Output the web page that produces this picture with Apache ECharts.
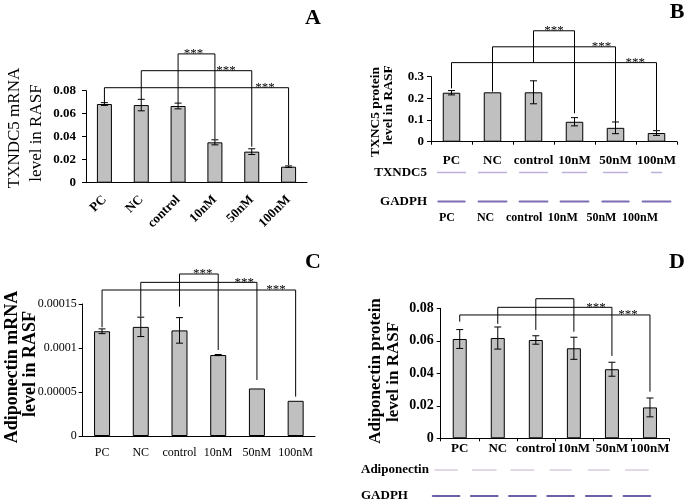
<!DOCTYPE html>
<html><head><meta charset="utf-8">
<script src="https://cdn.jsdelivr.net/npm/echarts@6/dist/echarts.min.js"></script>
<style>html,body{margin:0;padding:0;background:#fff}#c{width:688px;height:504px}</style>
</head><body><div id="c"></div>
<script>
// ---------- data ----------
const categories = ['PC', 'NC', 'control', '10nM', '50nM', '100nM'];

const valuesA = [0.0684, 0.0675, 0.0667, 0.0351, 0.027, 0.0139];
const errorsA = [0.0012, 0.005, 0.0025, 0.0022, 0.0025, 0.0007];
const ticksA = ['0', '0.02', '0.04', '0.06', '0.08'];
// [left idx, right idx, bracket height, left leg end, right leg end, star position (-1 = none)]
const bracketsA = [[2, 3, 0.112, 0.069, 0.038, 2.42], [1, 4, 0.0974, 0.0725, 0.0313, 3.3], [0, 5, 0.0826, 0.0695, 0.0154, 4.36]];

const valuesB = [0.226, 0.228, 0.228, 0.092, 0.064, 0.04];
const errorsB = [0.01, 0, 0.053, 0.019, 0.027, 0.011];
const ticksB = ['0', '0.1', '0.2', '0.3'];
const bracketsB = [[2, 3, 0.512, 0.365, 0.131, 2.5], [1, 4, 0.438, 0.231, 0.092, 3.66], [0, 5, 0.365, 0.246, 0.054, 4.48]];
const blotRowsB = ['TXNDC5', 'GADPH'];
const blotTXNDC5 = [0.97, 0.97, 0.97, 0.84, 0.84, 0.35];
const blotGADPH_B = [0.92, 0.97, 0.97, 0.97, 0.92, 0.97];
const laneLabelsB = ['PC', 'NC', 'control', '10nM', '50nM', '100nM'];

const valuesC = [0.000119, 0.000124, 0.00012, 0.000092, 0.000054, 0.00004];
const errorsC = [0.0000027, 0.000011, 0.0000145, 0.0000006, 0, 0];
const ticksC = ['0', '0.00005', '0.0001', '0.00015'];
const bracketsC = [[2, 3, 0.0001841, 0.000147, 0.0000977, 2.6], [1, 4, 0.0001746, 0.0001356, 0.0000636, 3.67], [0, 5, 0.0001659, 0.0001235, 0.0000447, 4.49]];

const valuesD = [0.0611, 0.0617, 0.0605, 0.0554, 0.0425, 0.019];
const errorsD = [0.0058, 0.0068, 0.0026, 0.0068, 0.0043, 0.0058];
const ticksD = ['0', '0.02', '0.04', '0.06', '0.08'];
const bracketsD = [[2, 3, 0.0859, 0.0667, 0.0656, -1], [1, 4, 0.0806, 0.0704, 0.0507, 3.58], [0, 5, 0.0759, 0.0718, 0.0287, 4.42]];
const blotRowsD = ['Adiponectin', 'GADPH'];
const blotAdiponectin = [0.84, 0.88, 0.84, 0.78, 0.78, 0.84];
const blotGADPH_D = [1, 1, 1, 1, 0.96, 1];

// ---------- helpers ----------
const FF = '"Liberation Serif", "Times New Roman", serif';
const BLACK = '#000';

function yAxis(gi, max, interval, ticks, size, weight, margin) {
  return {
    type: 'value', gridIndex: gi, min: 0, max: max, interval: interval,
    axisLine: {show: true, lineStyle: {color: BLACK, width: 1}},
    axisTick: {show: true, length: 4, lineStyle: {color: BLACK}},
    splitLine: {show: false},
    axisLabel: {
      margin: margin, color: BLACK, fontFamily: FF, fontSize: size, fontWeight: weight,
      formatter: function (v) { return ticks[Math.round(v / interval)]; }
    }
  };
}
function xAxis(gi, ticksOn, labelCfg) {
  return {
    type: 'category', gridIndex: gi, data: categories,
    axisLine: {show: true, lineStyle: {color: BLACK, width: 1}},
    axisTick: {show: ticksOn, length: 3, lineStyle: {color: BLACK}},
    splitLine: {show: false},
    axisLabel: Object.assign({color: BLACK, fontFamily: FF, interval: 0}, labelCfg)
  };
}
function bars(ai, vals, w) {
  return {
    type: 'bar', xAxisIndex: ai, yAxisIndex: ai, data: vals, barWidth: w,
    itemStyle: {color: '#c0c0c0', borderColor: BLACK, borderWidth: 1},
    silent: true
  };
}
function errBars(ai, vals, errs) {
  return {
    type: 'custom', xAxisIndex: ai, yAxisIndex: ai, clip: false, silent: true, z: 5,
    data: vals.map(function (v, i) { return [i, v, errs[i]]; }),
    encode: {x: 0, y: 1},
    renderItem: function (params, api) {
      const i = api.value(0), v = api.value(1), e = api.value(2);
      if (!e) return null;
      const t = api.coord([i, v + e]), b = api.coord([i, v - e]);
      const cw = 3.5, st = {stroke: BLACK, lineWidth: 1};
      return {type: 'group', children: [
        {type: 'line', shape: {x1: t[0], y1: t[1], x2: b[0], y2: b[1]}, style: st},
        {type: 'line', shape: {x1: t[0] - cw, y1: t[1], x2: t[0] + cw, y2: t[1]}, style: st},
        {type: 'line', shape: {x1: b[0] - cw, y1: b[1], x2: b[0] + cw, y2: b[1]}, style: st}
      ]};
    }
  };
}
function brackets(ai, rows) {
  return {
    type: 'custom', xAxisIndex: ai, yAxisIndex: ai, clip: false, silent: true, z: 6,
    data: rows,
    encode: {x: [0, 1], y: [2, 3, 4]},
    renderItem: function (params, api) {
      const li = api.value(0), ri = api.value(1), h = api.value(2), lb = api.value(3), rb = api.value(4), s = api.value(5);
      const pl = api.coord([li, h]), pr = api.coord([ri, h]);
      const ll = api.coord([li, lb]), rl = api.coord([ri, rb]);
      const st = {stroke: BLACK, lineWidth: 1};
      const ch = [
        {type: 'line', shape: {x1: pl[0], y1: pl[1], x2: pr[0], y2: pr[1]}, style: st},
        {type: 'line', shape: {x1: pl[0], y1: pl[1], x2: ll[0], y2: ll[1]}, style: st},
        {type: 'line', shape: {x1: pr[0], y1: pr[1], x2: rl[0], y2: rl[1]}, style: st}
      ];
      if (s >= 0) {
        const k = Math.floor(s);
        const a = api.coord([k, h]), b = api.coord([k + 1, h]);
        const x = a[0] + (s - k) * (b[0] - a[0]);
        ch.push({type: 'text', x: x, y: pl[1], style: {text: '***', fill: BLACK, font: '13px ' + FF,
          align: 'center', verticalAlign: 'middle', textAlign: 'center', textVerticalAlign: 'middle'}});
      }
      return {type: 'group', children: ch};
    }
  };
}
function blot(ai, rowsData, colors, widths) {
  const data = [];
  rowsData.forEach(function (arr, r) { arr.forEach(function (s, i) { data.push([i, r, s]); }); });
  return {
    type: 'custom', xAxisIndex: ai, yAxisIndex: ai, clip: false, silent: true,
    data: data, encode: {x: 0, y: 1},
    renderItem: function (params, api) {
      const i = api.value(0), r = api.value(1), s = api.value(2);
      const c = api.coord([i, r]);
      const w = api.size([1, 0])[0] * 0.7 * s;
      return {type: 'line', shape: {x1: c[0] - w / 2, y1: c[1], x2: c[0] + w / 2, y2: c[1]},
        style: {stroke: colors[r], lineWidth: widths[r], lineCap: 'round'}};
    }
  };
}
function blotY(gi, rows, labelCfg) {
  return {
    type: 'category', gridIndex: gi, data: rows, inverse: true, boundaryGap: false,
    axisLine: {show: false}, axisTick: {show: false}, splitLine: {show: false},
    axisLabel: Object.assign({color: BLACK, fontFamily: FF, fontWeight: 'bold', fontSize: 13, interval: 0}, labelCfg)
  };
}
function hiddenX(gi) {
  return {type: 'category', gridIndex: gi, data: categories, show: false};
}
function txt(text, x, y, size, weight, rot) {
  return {type: 'text', x: x, y: y, rotation: rot || 0, silent: true,
    style: {text: text, fill: BLACK, font: weight + ' ' + size + 'px ' + FF,
      align: 'center', verticalAlign: 'middle', textAlign: 'center', textVerticalAlign: 'middle'}};
}

// ---------- option ----------
const G = function (l, t, w, h) { return {left: l, top: t, width: w, height: h, containLabel: false, outerBoundsMode: 'none'}; };
const option = {
  animation: false,
  backgroundColor: '#fff',
  grid: [
    G(86, 90.7, 221, 92),        // 0 A
    G(431, 76.7, 246, 65),       // 1 B
    G(431, 172.5, 246, 29),      // 2 B blot
    G(427.7, 200, 231.6, 12),    // 3 B lane labels
    G(82.7, 304, 232.3, 132),    // 4 C
    G(440.7, 308.3, 228.3, 130), // 5 D
    G(427, 470, 229, 26)         // 6 D blot
  ],
  xAxis: [
    xAxis(0, false, {rotate: 45, margin: 15, fontSize: 13, fontWeight: 'bold'}),
    xAxis(1, true, {margin: 12, fontSize: 13, fontWeight: 'bold'}),
    hiddenX(2),
    {type: 'category', gridIndex: 3, data: laneLabelsB, axisLine: {show: false}, axisTick: {show: false},
      axisLabel: {margin: 0, color: BLACK, fontFamily: FF, fontWeight: 'bold', fontSize: 12, interval: 0}},
    xAxis(4, false, {margin: 11, fontSize: 12}),
    xAxis(5, true, {margin: 4, fontSize: 13, fontWeight: 'bold'}),
    hiddenX(6)
  ],
  yAxis: [
    yAxis(0, 0.08, 0.02, ticksA, 13, 'bold', 10),
    yAxis(1, 0.3, 0.1, ticksB, 13, 'bold', 7),
    blotY(2, blotRowsB, {margin: 4}),
    {type: 'value', gridIndex: 3, show: false, min: 0, max: 1},
    yAxis(4, 0.00015, 0.00005, ticksC, 12, 'normal', 6),
    yAxis(5, 0.08, 0.02, ticksD, 14, 'bold', 7),
    blotY(6, blotRowsD, {margin: 66, align: 'left'})
  ],
  series: [
    bars(0, valuesA, 15), errBars(0, valuesA, errorsA), brackets(0, bracketsA),
    bars(1, valuesB, 17.5), errBars(1, valuesB, errorsB), brackets(1, bracketsB),
    blot(2, [blotTXNDC5, blotGADPH_B], ['#bdb0da', '#7d6db5'], [1.5, 2]),
    bars(4, valuesC, 16), errBars(4, valuesC, errorsC), brackets(4, bracketsC),
    bars(5, valuesD, 14), errBars(5, valuesD, errorsD), brackets(5, bracketsD),
    blot(6, [blotAdiponectin, blotGADPH_D], ['#d6cce0', '#6e5ea8'], [1.5, 2])
  ],
  graphic: [
    txt('A', 313, 18, 22, 'bold'), txt('B', 677, 12, 22, 'bold'),
    txt('C', 313, 262, 22, 'bold'), txt('D', 677, 262, 22, 'bold'),
    txt('TXNDC5 mRNA', 15, 128, 17, 'normal', Math.PI / 2),
    txt('level in RASF', 37, 133, 17, 'normal', Math.PI / 2),
    txt('TXNC5 protein', 376, 112, 13.5, 'bold', Math.PI / 2),
    txt('level in RASF', 389, 105, 13.5, 'bold', Math.PI / 2),
    txt('Adiponectin mRNA', 12, 367, 18, 'bold', Math.PI / 2),
    txt('level in RASF', 30, 364, 18, 'bold', Math.PI / 2),
    txt('Adiponectin protein', 376, 371, 17, 'bold', Math.PI / 2),
    txt('level in RASF', 394, 372, 17, 'bold', Math.PI / 2)
  ]
};
const chart = echarts.init(document.getElementById('c'), null, {renderer: 'canvas'});
chart.setOption(option);
</script>
</body></html>
